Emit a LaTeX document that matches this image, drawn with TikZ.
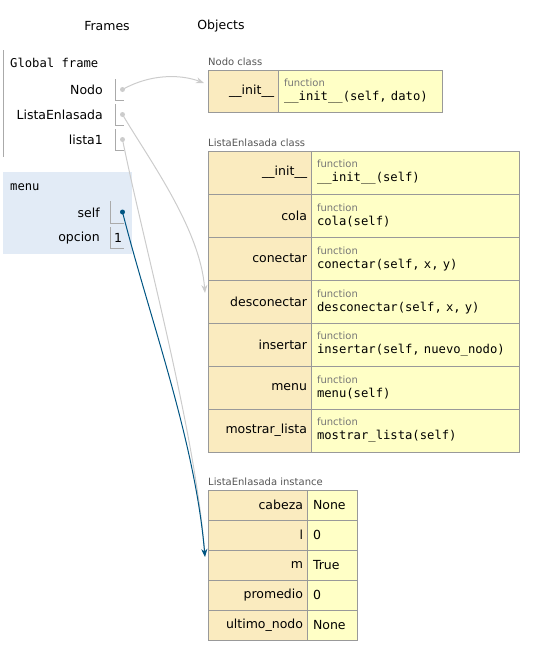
\documentclass[tikz,border=0pt]{standalone}
\usepackage{fontspec}
\setmainfont{DejaVu Sans}
\setmonofont[WordSpace={1,0,0}]{DejaVu Sans Mono}
\usetikzlibrary{positioning,arrows.meta}
\definecolor{keyfill}{HTML}{FAEBBF}
\definecolor{valfill}{HTML}{FFFFC6}
\definecolor{framefill}{HTML}{E2EBF6}
\definecolor{cellline}{HTML}{999999}
\definecolor{slotline}{HTML}{AAAAAA}
\definecolor{ptrgray}{HTML}{CCCCCC}
\definecolor{ptrblue}{HTML}{005583}
\definecolor{fngray}{HTML}{777777}
\definecolor{txtgray}{HTML}{555555}
\newcommand{\ptmain}{\fontsize{12.5}{15}\selectfont}
\newcommand{\ptcode}{\fontsize{12.2}{15}\selectfont\ttfamily}
\newcommand{\ptsmall}{\fontsize{10}{13}\selectfont}
\newcommand{\fnval}[1]{{\ptsmall\color{fngray}function}\\[-1pt]{\ptcode #1}}

\begin{document}
\begin{tikzpicture}[x=1pt, y=-1pt,
		keycell/.style={
			draw=cellline,
			fill=keyfill,
			outer sep=0pt,
			inner xsep=4pt,
			inner ysep=0pt,
			align=right,
			font=\ptmain},
		valcell/.style={
			draw=cellline,
			fill=valfill,
			outer sep=0pt,
			inner xsep=6pt,
			inner ysep=0pt,
			align=left,
			font=\ptmain},
		varname/.style={anchor=east, font=\ptmain, inner sep=0pt},
		objtitle/.style={anchor=west, font=\ptsmall, text=txtgray, inner sep=0pt},
		ptrdot/.style={circle, inner sep=0pt, minimum size=5pt},
		gptr/.style={ptrgray, line width=1pt, -{Stealth[length=8pt,width=6pt]}},
		bptr/.style={ptrblue, line width=1pt, -{Stealth[length=8pt,width=6pt]}}]
		\useasboundingbox (0,0) rectangle (536,657);

		% headings
		\node (hframes) at (107,26) [font=\ptmain] {Frames};
		\node (hobjects) at (221,26) [font=\ptmain] {Objects};

		% global frame
		\draw [slotline, line width=1pt] (3.5,50) -- (3.5,157);
		\node (gtitle) at (10,63) [anchor=west, inner sep=0pt, font=\ptcode] {Global frame};
		\node (vnodo) at (103,90) [varname] {Nodo};
		\node (vlista) at (103,115) [varname] {ListaEnlasada};
		\node (vlista1) at (103,140) [varname] {lista1};
		\draw [slotline] (115,79) |- (124,100);
		\draw [slotline] (115,104) |- (124,125);
		\draw [slotline] (115,129) |- (124,150);
		\node (dnodo) at (122.5,89.5) [ptrdot, fill=ptrgray] {};
		\node (dlista) at (122.5,114.5) [ptrdot, fill=ptrgray] {};
		\node (dlista1) at (122.5,139.5) [ptrdot, fill=ptrgray] {};

		% menu frame
		\fill [framefill] (3,172) rectangle (132,254);
		\node (mtitle) at (10,187) [anchor=west, inner sep=0pt, font=\ptcode] {menu};
		\node (vself) at (100,213) [varname] {self};
		\node (vopcion) at (100,238) [varname] {opcion};
		\draw [slotline] (110.5,201) |- (124,223);
		\draw [slotline] (110.5,227) |- (124,248);
		\node (opval) at (118,238) [font=\ptmain, inner sep=0pt] {1};
		\node (dself) at (122.5,212) [ptrdot, fill=ptrblue] {};

		% Nodo class
		\node (tnodo) at (208,62) [objtitle] {Nodo class};
		\node (nkinit) at (208,70) [keycell, anchor=north west, minimum height=42pt, text width=62pt] {\_\_init\_\_};
		\node (nvinit) [right=0pt of nkinit, valcell, minimum height=42pt, text width=152pt] {\fnval{\_\_init\_\_(self, dato)}};

		% ListaEnlasada class
		\node (tlista) at (208,143) [objtitle] {ListaEnlasada class};
		\node (lkinit) at (208,151) [keycell, anchor=north west, minimum height=43pt, text width=95pt] {\_\_init\_\_};
		\node (lkcola) [below=0pt of lkinit, keycell, minimum height=43pt, text width=95pt] {cola};
		\node (lkconectar) [below=0pt of lkcola, keycell, minimum height=43pt, text width=95pt] {conectar};
		\node (lkdesconectar) [below=0pt of lkconectar, keycell, minimum height=43pt, text width=95pt] {desconectar};
		\node (lkinsertar) [below=0pt of lkdesconectar, keycell, minimum height=43pt, text width=95pt] {insertar};
		\node (lkmenu) [below=0pt of lkinsertar, keycell, minimum height=43pt, text width=95pt] {menu};
		\node (lkmostrar) [below=0pt of lkmenu, keycell, minimum height=43pt, text width=95pt] {mostrar\_lista};
		\node (lvinit) [right=0pt of lkinit, valcell, minimum height=43pt, text width=196pt] {\fnval{\_\_init\_\_(self)}};
		\node (lvcola) [right=0pt of lkcola, valcell, minimum height=43pt, text width=196pt] {\fnval{cola(self)}};
		\node (lvconectar) [right=0pt of lkconectar, valcell, minimum height=43pt, text width=196pt] {\fnval{conectar(self, x, y)}};
		\node (lvdesconectar) [right=0pt of lkdesconectar, valcell, minimum height=43pt, text width=196pt] {\fnval{desconectar(self, x, y)}};
		\node (lvinsertar) [right=0pt of lkinsertar, valcell, minimum height=43pt, text width=196pt] {\fnval{insertar(self, nuevo\_nodo)}};
		\node (lvmenu) [right=0pt of lkmenu, valcell, minimum height=43pt, text width=196pt] {\fnval{menu(self)}};
		\node (lvmostrar) [right=0pt of lkmostrar, valcell, minimum height=43pt, text width=196pt] {\fnval{mostrar\_lista(self)}};

		% ListaEnlasada instance
		\node (tinst) at (208,482) [objtitle] {ListaEnlasada instance};
		\node (ikcabeza) at (208,490) [keycell, anchor=north west, minimum height=30pt, text width=91pt] {cabeza};
		\node (ikl) [below=0pt of ikcabeza, keycell, minimum height=30pt, text width=91pt] {l};
		\node (ikm) [below=0pt of ikl, keycell, minimum height=30pt, text width=91pt] {m};
		\node (ikpromedio) [below=0pt of ikm, keycell, minimum height=30pt, text width=91pt] {promedio};
		\node (ikultimo) [below=0pt of ikpromedio, keycell, minimum height=30pt, text width=91pt] {ultimo\_nodo};
		\node (ivcabeza) [right=0pt of ikcabeza, valcell, minimum height=30pt, text width=38pt, inner xsep=6pt] {None};
		\node (ivl) [right=0pt of ikl, valcell, minimum height=30pt, text width=38pt, inner xsep=6pt] {0};
		\node (ivm) [right=0pt of ikm, valcell, minimum height=30pt, text width=38pt, inner xsep=6pt] {True};
		\node (ivpromedio) [right=0pt of ikpromedio, valcell, minimum height=30pt, text width=38pt, inner xsep=6pt] {0};
		\node (ivultimo) [right=0pt of ikultimo, valcell, minimum height=30pt, text width=38pt, inner xsep=6pt] {None};

		% pointers
		\draw [gptr] (dnodo.center) .. controls (150,74) and (180,74) .. ([xshift=-4pt, yshift=8pt]nkinit.west);
		\draw [gptr] (dlista.center) .. controls (148,158) and (200,228) .. ([xshift=-3pt, yshift=-13pt]lkdesconectar.north west);
		\draw [gptr] (dlista1.center) .. controls (145,250) and (195,430) .. ([xshift=-3pt, yshift=-7pt]ikm.north west);
		\draw [bptr] (dself.center) .. controls (150,320) and (195,440) .. ([xshift=-3pt, yshift=-7pt]ikm.north west);
	\end{tikzpicture}
\end{document}
